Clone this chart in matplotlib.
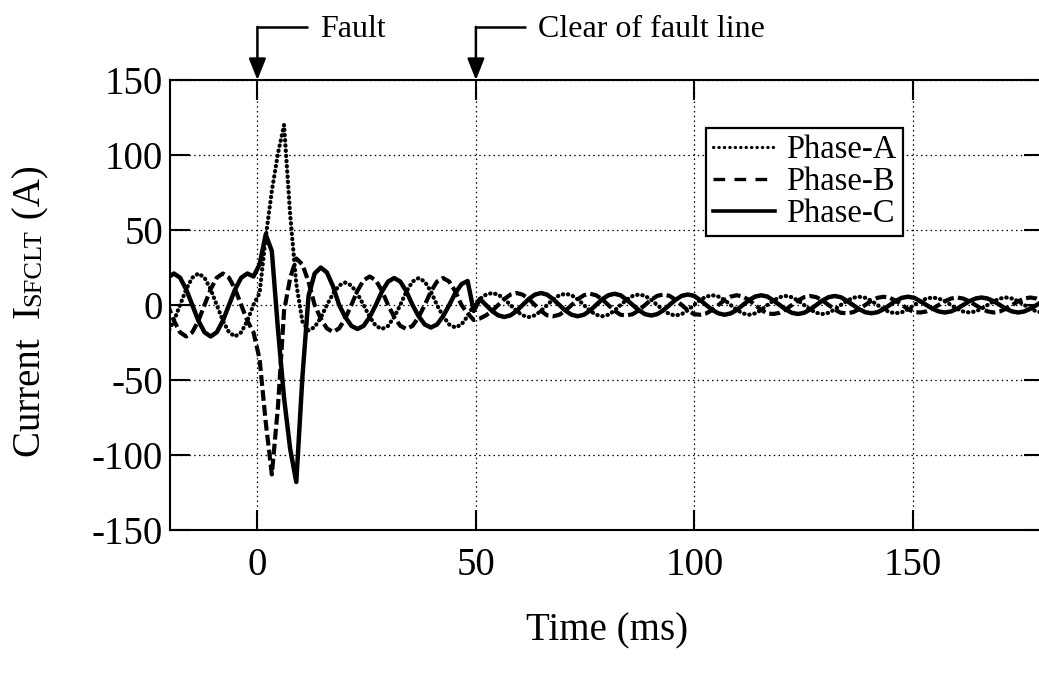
import matplotlib
matplotlib.use("Agg")
import matplotlib.pyplot as plt
from matplotlib.lines import Line2D

# ---------------- data ----------------
time_ms = [
    -21.9, -20.5, -19.1, -17.7, -16.3, -14.9, -13.5, -12.1, -10.7, -9.3, -7.9, -6.5, -5.1, -3.7, -2.3, -0.9,
    0.5, 1.9, 3.3, 4.7, 6.1, 7.5, 8.9, 10.3, 11.7,
    13.1, 14.5, 15.9, 17.3, 18.7, 20.1, 21.5, 22.9, 24.3, 25.7, 27.1, 28.5, 29.9, 31.3, 32.7, 34.1, 35.5,
    36.9, 38.3, 39.7, 41.1, 42.5, 43.9, 45.3, 46.7, 48.1, 49.5,
    50.9, 52.3, 53.7, 55.1, 56.5, 57.9, 59.3, 60.7, 62.1, 63.5, 64.9, 66.3,
    67.7, 69.1, 70.5, 71.9, 73.3, 74.7, 76.1, 77.5, 78.9, 80.3, 81.7, 83.1,
    84.5, 85.9, 87.3, 88.7, 90.1, 91.5, 92.9, 94.3, 95.7, 97.1, 98.5, 99.9,
    101.3, 102.7, 104.1, 105.5, 106.9, 108.3, 109.7, 111.1, 112.5, 113.9, 115.3, 116.7,
    118.1, 119.5, 120.9, 122.3, 123.7, 125.1, 126.5, 127.9, 129.3, 130.7, 132.1, 133.5,
    134.9, 136.3, 137.7, 139.1, 140.5, 141.9, 143.3, 144.7, 146.1, 147.5, 148.9, 150.3,
    151.7, 153.1, 154.5, 155.9, 157.3, 158.7, 160.1, 161.5, 162.9, 164.3, 165.7, 167.1,
    168.5, 169.9, 171.3, 172.7, 174.1, 175.5, 176.9, 178.3, 179.7, 181.1,
]

phase_a = [
    -21, -18.2, -10.5, 0, 10.5, 18.2, 21, 18.2, 10.5, 0, -10.5, -18.2, -21, -18.2, -10.5, 0,
    8, 45, 76, 101, 120, 60, 14, -11, -17,
    -14.7, -8.5, 0, 7.5, 13, 15, 13, 7.5, 0, -8, -13.9, -16, -13.9, -8, 0, 9, 15.6,
    18, 15.6, 9, 0, -7.5, -13, -15, -13, -7.5, 0,
    4, 6.9, 8, 6.9, 4, 0, -4, -6.9, -8, -6.9, -4, 0,
    3.8, 6.5, 7.5, 6.5, 3.8, 0, -3.8, -6.5, -7.5, -6.5, -3.8, 0,
    3.5, 6.1, 7, 6.1, 3.5, 0, -3.5, -6.1, -7, -6.1, -3.5, 0,
    3.3, 5.6, 6.5, 5.6, 3.3, 0, -3.3, -5.6, -6.5, -5.6, -3.3, 0,
    3, 5.2, 6, 5.2, 3, 0, -3, -5.2, -6, -5.2, -3, 0,
    2.8, 4.8, 5.5, 4.8, 2.8, 0, -2.8, -4.8, -5.5, -4.8, -2.8, 0,
    2.5, 4.3, 5, 4.3, 2.5, 0, -2.5, -4.3, -5, -4.3, -2.5, 0,
    2.5, 4.3, 5, 4.3, 2.5, 0, -2.5, -4.3, -5, -4.3,
]

phase_b = [
    10.5, 0, -10.5, -18.2, -21, -18.2, -10.5, 0, 10.5, 18.2, 21, 18.2, 10.5, 0, -10.5, -18.2,
    -36, -78, -113, -68, -4, 18, 31, 27, 15.5,
    0, -9, -15.6, -18, -15.6, -9, 0, 9.5, 16.5, 19, 16.5, 9.5, 0, -8, -13.9, -16, -13.9,
    -8, 0, 9, 15.6, 18, 15.6, 9, 0, -5.5, -10,
    -9, -6.9, -4, 0, 4, 6.9, 8, 6.9, 4, 0, -4, -6.9,
    -7.5, -6.5, -3.8, 0, 3.8, 6.5, 7.5, 6.5, 3.8, 0, -3.8, -6.5,
    -7, -6.1, -3.5, 0, 3.5, 6.1, 7, 6.1, 3.5, 0, -3.5, -6.1,
    -6.5, -5.6, -3.3, 0, 3.3, 5.6, 6.5, 5.6, 3.3, 0, -3.3, -5.6,
    -6, -5.2, -3, 0, 3, 5.2, 6, 5.2, 3, 0, -3, -5.2,
    -5.5, -4.8, -2.8, 0, 2.8, 4.8, 5.5, 4.8, 2.8, 0, -2.8, -4.8,
    -5, -4.3, -2.5, 0, 2.5, 4.3, 5, 4.3, 2.5, 0, -2.5, -4.3,
    -5, -4.3, -2.5, 0, 2.5, 4.3, 5, 4.3, 2.5, 0,
]

phase_c = [
    10.5, 18.2, 21, 18.2, 10.5, 0, -10.5, -18.2, -21, -18.2, -10.5, 0, 10.5, 18.2, 21, 19,
    27, 47, 36, -16, -62, -96, -118, -48, 6,
    21, 25, 21.7, 12.5, 0, -8, -13.9, -16, -13.9, -8, 0, 9, 15.6, 18, 15.6, 9, 0,
    -7.5, -13, -15, -13, -7.5, 0, 8, 13.9, 16, -4,
    4, 0, -4, -6.9, -8, -6.9, -4, 0, 4, 6.9, 8, 6.9,
    3.8, 0, -3.8, -6.5, -7.5, -6.5, -3.8, 0, 3.8, 6.5, 7.5, 6.5,
    3.5, 0, -3.5, -6.1, -7, -6.1, -3.5, 0, 3.5, 6.1, 7, 6.1,
    3.3, 0, -3.3, -5.6, -6.5, -5.6, -3.3, 0, 3.3, 5.6, 6.5, 5.6,
    3, 0, -3, -5.2, -6, -5.2, -3, 0, 3, 5.2, 6, 5.2,
    2.8, 0, -2.8, -4.8, -5.5, -4.8, -2.8, 0, 2.8, 4.8, 5.5, 4.8,
    2.5, 0, -2.5, -4.3, -5, -4.3, -2.5, 0, 2.5, 4.3, 5, 4.3,
    2.5, 0, -2.5, -4.3, -5, -4.3, -2.5, 0, 2.5, 4.3,
]

series_labels = ["Phase-A", "Phase-B", "Phase-C"]
x_ticks = [0, 50, 100, 150]
y_ticks = [-150, -100, -50, 0, 50, 100, 150]
x_range = (-20, 180)
y_range = (-150, 150)
fault_ms = 0
clear_ms = 50
fault_text = "Fault"
clear_text = "Clear of fault line"

n = min(len(time_ms), len(phase_a), len(phase_b), len(phase_c))

# ---------------- style ----------------
plt.rcParams["font.family"] = ["Liberation Serif", "DejaVu Serif"]
plt.rcParams["axes.unicode_minus"] = False

W, H = 1039, 674
fig = plt.figure(figsize=(W / 100, H / 100), dpi=100)
ax = fig.add_axes([170 / W, 144 / H, 874 / W, 450 / H])

ax.plot(time_ms[:n], phase_a[:n], color="k", lw=3.0, linestyle=(0, (0.1, 1.15)),
        dash_capstyle="round")
ax.plot(time_ms[:n], phase_b[:n], color="k", lw=3.0, linestyle=(0, (2.6, 1.0)))
ax.plot(time_ms[:n], phase_c[:n], color="k", lw=3.2, linestyle="-")

ax.set_xlim(*x_range)
ax.set_ylim(*y_range)
ax.set_xticks(x_ticks)
ax.set_yticks(y_ticks)
ax.tick_params(direction="in", length=14.4, width=1.5, top=True, right=True,
               labelsize=28, colors="k")
ax.tick_params(axis="x", pad=12)
ax.tick_params(axis="y", pad=5)
for sp in ax.spines.values():
    sp.set_linewidth(1.5)
ax.set_axisbelow(True)
ax.grid(True, color="k", lw=0.9, linestyle=(0, (1.2, 2.6)))

handles = [
    Line2D([], [], color="k", lw=2.3, linestyle=(0, (0.1, 1.6)), dash_capstyle="round"),
    Line2D([], [], color="k", lw=2.4, linestyle=(0, (3.5, 2.8))),
    Line2D([], [], color="k", lw=2.6, linestyle="-"),
]
leg = ax.legend(handles, series_labels, loc="upper right", bbox_to_anchor=(0.839, 0.893),
                fontsize=23.5, frameon=True, fancybox=False, edgecolor="k", framealpha=1,
                handlelength=1.9, handletextpad=0.35, borderpad=0.2,
                labelspacing=0.05, borderaxespad=0)
leg.get_frame().set_linewidth(1.6)

# ---------------- annotations ----------------
xt = ax.get_xaxis_transform()
for x0, txt in [(fault_ms, fault_text), (clear_ms, clear_text)]:
    ax.annotate("", xy=(x0, 1.0), xycoords=xt, xytext=(x0, 1.118), textcoords=xt,
                arrowprops=dict(arrowstyle="-|>,head_length=1.0,head_width=0.4",
                                color="k", lw=1.8, mutation_scale=13,
                                shrinkA=0, shrinkB=0),
                annotation_clip=False)
    ax.plot([x0, x0 + 11.5], [1.118, 1.118], transform=xt, color="k", lw=1.8,
            clip_on=False, solid_capstyle="butt")
    ax.text(x0 + 14.3, 1.0956, txt, transform=xt, fontsize=23, ha="left",
            va="baseline", clip_on=False)

# ---------------- axis labels ----------------
fig.text(607 / W, 34 / H, "Time (ms)", fontsize=28, ha="center", va="baseline")

fig.canvas.draw()
renderer = fig.canvas.get_renderer()
pieces = [("Current  I", 28), ("SFCLT", 19), (" (A)", 28)]
widths = []
for s, fs in pieces:
    t = fig.text(0, 0, s, fontsize=fs)
    widths.append(t.get_window_extent(renderer).width)
    t.remove()
total = sum(widths)
ypos = (H - 311) - total / 2
x_base = 40
for (s, fs), w in zip(pieces, widths):
    fig.text(x_base / W, ypos / H, s, fontsize=fs, rotation=90,
             rotation_mode="anchor", ha="left", va="baseline")
    ypos += w

fig.savefig("out.png", dpi=100)
